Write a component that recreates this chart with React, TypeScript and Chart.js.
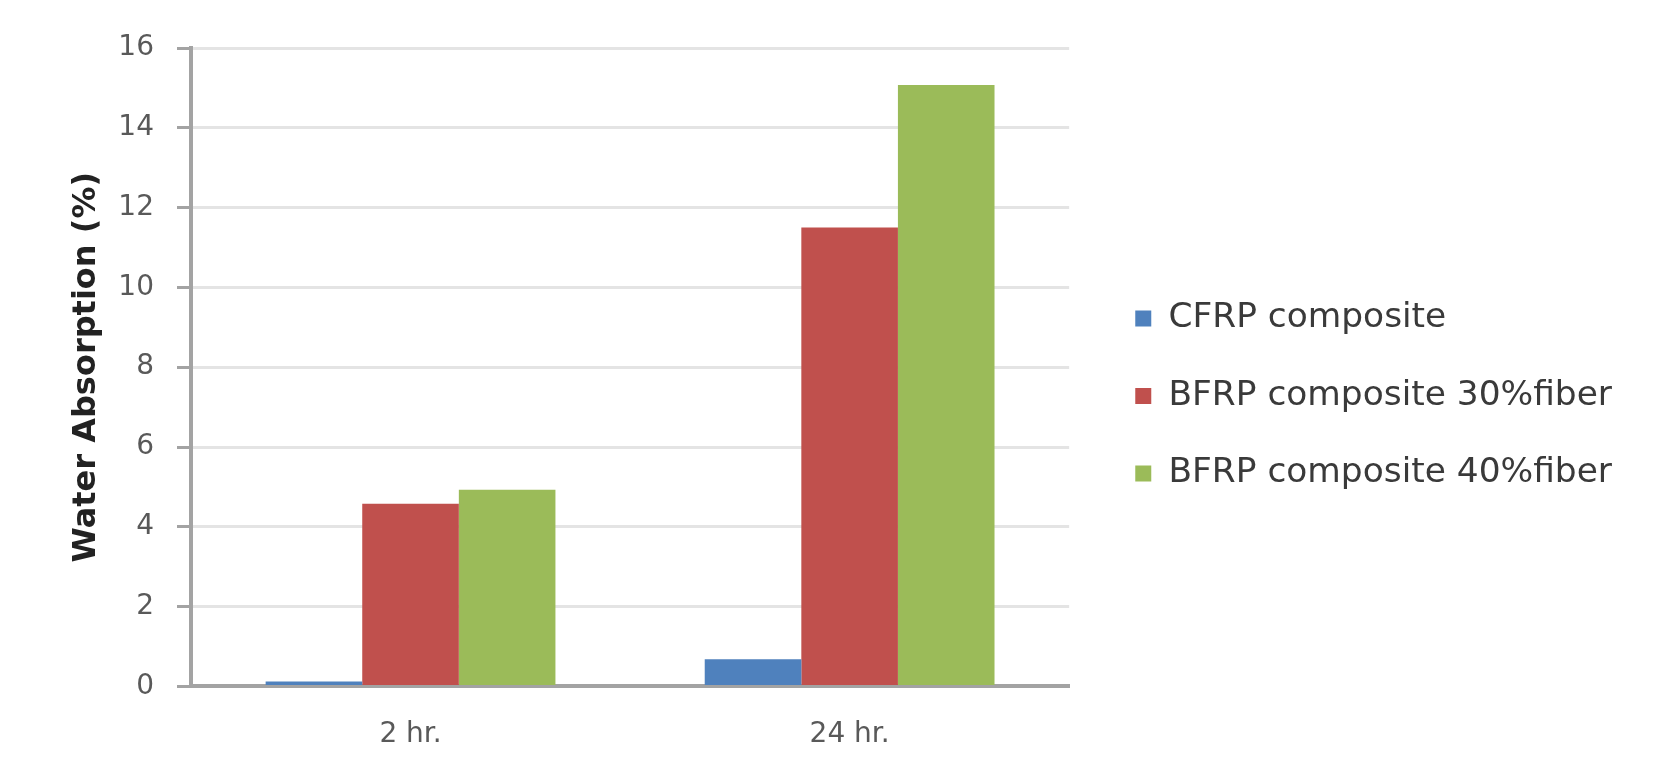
import React, { useEffect, useRef } from "react";
import { Chart, registerables } from "chart.js";

Chart.register(...registerables);

const categories = ["2 hr.", "24 hr."];
const seriesNames = ["CFRP composite", "BFRP composite 30%fiber", "BFRP composite 40%fiber"];
const cfrpValues = [0.12, 0.68];
const bfrp30Values = [4.58, 11.5];
const bfrp40Values = [4.93, 15.07];
const seriesColors = ["#4F81BD", "#C0504D", "#9BBB59"];
const yTitle = "Water Absorption (%)";
const yMin = 0;
const yMax = 16;
const yStep = 2;

export default function App() {
  const canvasRef = useRef<HTMLCanvasElement | null>(null);

  useEffect(() => {
    const canvas = canvasRef.current;
    if (!canvas) return;
    const values = [cfrpValues, bfrp30Values, bfrp40Values];
    const chart = new Chart(canvas, {
      type: "bar",
      data: {
        labels: categories,
        datasets: seriesNames.map((name, i) => ({
          label: name,
          data: values[i],
          backgroundColor: seriesColors[i],
          borderWidth: 0,
          categoryPercentage: 0.66,
          barPercentage: 1.0,
        })),
      },
      options: {
        animation: false,
        responsive: false,
        devicePixelRatio: 1,
        layout: { padding: { left: 67, top: 8, right: 32, bottom: 0 } },
        plugins: {
          tooltip: { enabled: false },
          legend: {
            position: "right",
            align: "center",
            maxWidth: 700,
            labels: {
              boxWidth: 16,
              boxHeight: 16,
              padding: 43.1,
              color: "#3a3a3a",
              font: { family: "DejaVu Sans", size: 34.4 },
            },
          },
        },
        scales: {
          x: {
            grid: { display: false, drawTicks: false },
            border: { display: true, color: "#a3a3a3", width: 4 },
            ticks: {
              color: "#595959",
              padding: 32,
              font: { family: "DejaVu Sans", size: 28 },
            },
          },
          xTop: {
            type: "category",
            position: "top",
            display: true,
            grid: { display: false, drawTicks: false },
            border: { display: false },
            ticks: { display: false },
            afterFit: (scale: any) => {
              scale.height = 40;
            },
          },
          y: {
            min: yMin,
            max: yMax,
            ticks: {
              stepSize: yStep,
              color: "#595959",
              padding: 23,
              font: { family: "DejaVu Sans", size: 28 },
            },
            grid: {
              color: "#e4e4e4",
              lineWidth: 3,
              drawTicks: true,
              tickLength: 14,
              tickColor: "#a3a3a3",
              tickWidth: 3,
            },
            border: { display: true, color: "#a3a3a3", width: 4 },
            title: {
              display: true,
              text: yTitle,
              color: "#222222",
              padding: 0,
              font: { family: "DejaVu Sans", size: 32, weight: "bold" },
            },
            afterFit: (scale: any) => {
              scale.width = 124;
            },
          },
          yGap: {
            type: "linear",
            position: "right",
            display: true,
            grid: { display: false, drawTicks: false },
            border: { display: false },
            ticks: { display: false },
            afterFit: (scale: any) => {
              scale.width = 23;
            },
          },
        },
      },
    } as any);
    return () => chart.destroy();
  }, []);

  return (
    <div style={{ position: "fixed", left: 0, top: 0, width: 1654, height: 784, background: "#ffffff" }}>
      <canvas ref={canvasRef} width={1654} height={784} style={{ display: "block" }} />
    </div>
  );
}
